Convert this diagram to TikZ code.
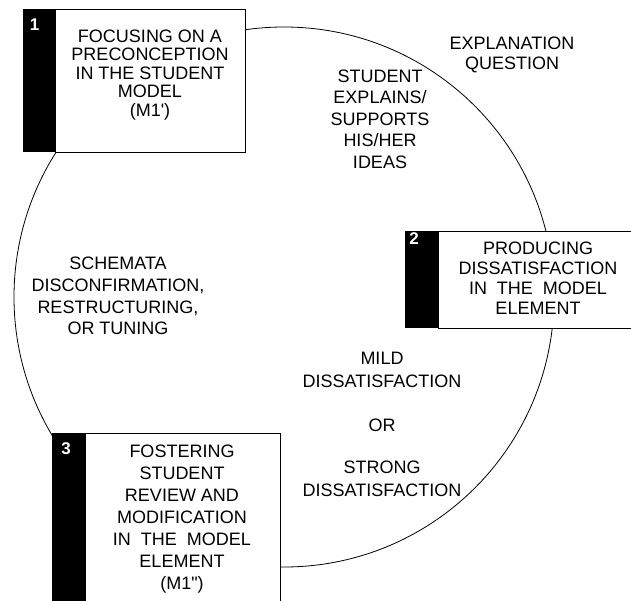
\documentclass[tikz,border=0pt]{standalone}
\usepackage{fontspec}
\setmainfont{Liberation Sans}
\begin{document}
\begin{tikzpicture}[x=1pt,y=-1pt]
%\draw[help lines] (0,0) grid (631,601);
\tikzset{
	lbl/.style={align=center,inner sep=0pt,font=\fontsize{18}{#1}\selectfont},
	lbl/.default=20,
	num/.style={text=white,inner sep=0pt,font=\fontsize{17}{17}\selectfont\bfseries},
	frame/.style={line width=0.8pt}
}
\useasboundingbox (0,0) rectangle (631,601);
\clip (0,0) rectangle (631,601);
%% The cycle
\draw[frame] (284,297) circle[radius=270pt];
%%%%%%%%%%%%%%
%% Box 1 (top left) %%
%%%%%%%%%%%%%%
\def\a{22.7}
\def\b{9}
\fill (\a,\b) rectangle (\a+32.3,\b+143);
\draw[frame,fill=white] (\a+32.3,\b) rectangle (\a+222.3,\b+143);
\node[num] (one) at (\a+12,\b+16) {1};
\node[lbl=18.5] (focus) at (\a+127.3,\b+66)
	{FOCUSING ON A\\PRECONCEPTION\\IN THE STUDENT\\MODEL\\(M1\textquotesingle)};
%%%%%%%%%%%%%%
%% Box 2 (right) %%
%%%%%%%%%%%%%%
\def\a{405}
\def\b{231}
\fill (\a,\b) rectangle (\a+33,\b+97);
\draw[frame,fill=white] (\a+33,\b) rectangle (\a+240,\b+97);
\node[num] (two) at (\a+9,\b+8) {2};
\node[lbl] (produce) at (\a+133,\b+47)
	{PRODUCING\\DISSATISFACTION\\IN\ \ THE\ \ MODEL\\ELEMENT};
%%%%%%%%%%%%%%
%% Box 3 (bottom left) %%
%%%%%%%%%%%%%%
\def\a{52}
\def\b{433}
\fill (\a,\b) rectangle (\a+33,\b+180);
\draw[frame,fill=white] (\a+33,\b) rectangle (\a+228,\b+180);
\node[num] (three) at (\a+14,\b+16) {3};
\node[lbl=22] (foster) at (\a+130,\b+86)
	{FOSTERING\\STUDENT\\REVIEW AND\\MODIFICATION\\IN\ \ THE\ \ MODEL\\ELEMENT\\(M1\textquotedbl)};
%% Texts round the cycle
\node[lbl] (question) at (512,55) {EXPLANATION\\QUESTION};
\node[lbl=21.5] (explain) at (380,119)
	{STUDENT\\EXPLAINS/\\SUPPORTS\\HIS/HER\\IDEAS};
\node[lbl=21.7] (schemata) at (118,296)
	{SCHEMATA\\DISCONFIRMATION,\\RESTRUCTURING,\\OR TUNING};
\node[lbl=23.5] (mild) at (382,370) {MILD\\DISSATISFACTION};
\node[lbl] (or) at (382,425) {OR};
\node[lbl=23] (strong) at (382,479) {STRONG\\DISSATISFACTION};
\end{tikzpicture}
\end{document}
